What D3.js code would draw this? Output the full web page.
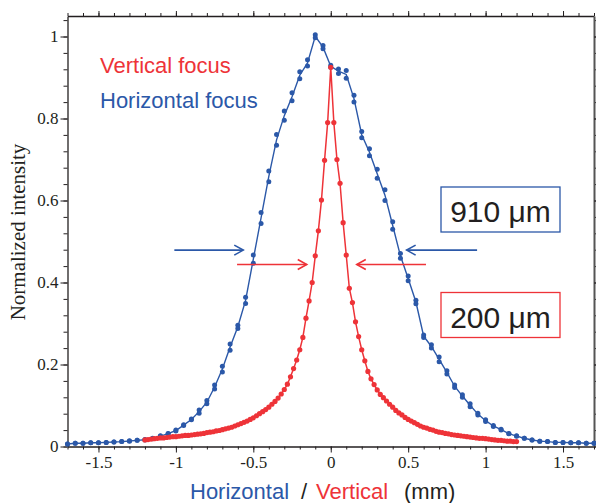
<!DOCTYPE html>
<html>
<head>
<meta charset="utf-8">
<script src="https://cdn.jsdelivr.net/npm/d3@7"></script>
<style>
	body { margin: 0; background: #fff; }
	svg { display: block; }
</style>
</head>
<body>
<script>
// horizontal focus: two scans, 0.05 mm steps from -1.7 mm
const horizStart = -1.7;
const horizStep = 0.05;
const horizScanA = [
	0.006, 0.008, 0.008, 0.009, 0.009, 0.010, 0.011, 0.012, 0.014, 0.015,
	0.017, 0.020, 0.026, 0.032, 0.040, 0.053, 0.067, 0.089, 0.112, 0.150,
	0.196, 0.250, 0.296, 0.364, 0.467, 0.571, 0.672, 0.761, 0.818, 0.863,
	0.914, 0.943, 1.004, 0.978, 0.930, 0.921, 0.917, 0.857, 0.768, 0.726,
	0.676, 0.626, 0.548, 0.471, 0.416, 0.357, 0.272, 0.248, 0.218, 0.185,
	0.150, 0.126, 0.104, 0.081, 0.065, 0.051, 0.042, 0.032, 0.026, 0.020,
	0.016, 0.013, 0.012, 0.010, 0.010, 0.009, 0.009, 0.008, 0.008
];
const horizScanB = [
	0.006, 0.008, 0.008, 0.009, 0.009, 0.010, 0.011, 0.012, 0.013, 0.015,
	0.016, 0.019, 0.025, 0.031, 0.038, 0.051, 0.065, 0.081, 0.104, 0.140,
	0.182, 0.235, 0.288, 0.349, 0.447, 0.544, 0.646, 0.735, 0.796, 0.843,
	0.897, 0.928, 0.997, 0.970, 0.925, 0.910, 0.898, 0.840, 0.753, 0.709,
	0.654, 0.600, 0.530, 0.459, 0.404, 0.348, 0.266, 0.240, 0.207, 0.177,
	0.144, 0.120, 0.097, 0.077, 0.061, 0.049, 0.040, 0.031, 0.025, 0.020,
	0.016, 0.013, 0.012, 0.010, 0.010, 0.009, 0.009, 0.008, 0.008
];

// vertical focus: 0.02 mm steps from -1.2 mm
const vertStart = -1.2;
const vertStep = 0.02;
const vertValues = [
	0.016, 0.017, 0.018, 0.019, 0.020, 0.021, 0.021, 0.022, 0.023, 0.024,
	0.024, 0.025, 0.026, 0.027, 0.027, 0.028, 0.029, 0.030, 0.031, 0.032,
	0.034, 0.035, 0.036, 0.038, 0.039, 0.041, 0.043, 0.045, 0.047, 0.050,
	0.053, 0.056, 0.059, 0.062, 0.066, 0.070, 0.075, 0.080, 0.085, 0.090,
	0.096, 0.103, 0.110, 0.118, 0.128, 0.139, 0.152, 0.170, 0.190, 0.211,
	0.236, 0.266, 0.313, 0.355, 0.400, 0.465, 0.526, 0.601, 0.698, 0.790,
	0.925,
	0.790, 0.700, 0.642, 0.546, 0.467, 0.386, 0.351, 0.304, 0.268, 0.236,
	0.209, 0.183, 0.165, 0.151, 0.138, 0.127, 0.119, 0.111, 0.103, 0.096,
	0.088, 0.082, 0.077, 0.071, 0.066, 0.062, 0.058, 0.054, 0.050, 0.047,
	0.045, 0.042, 0.040, 0.037, 0.035, 0.034, 0.032, 0.031, 0.029, 0.028,
	0.027, 0.026, 0.025, 0.024, 0.023, 0.022, 0.021, 0.020, 0.020, 0.019,
	0.018, 0.017, 0.016, 0.015, 0.015, 0.014, 0.013, 0.013, 0.012, 0.012
];

const xTicks = [-1.5, -1, -0.5, 0, 0.5, 1, 1.5];
const yTicks = [0, 0.2, 0.4, 0.6, 0.8, 1];

const legendLabels = ["Vertical focus", "Horizontal focus"];
const widthLabels = ["910 \u03bcm", "200 \u03bcm"];

// FWHM arrows in data units: [level, tail, head]
const horizArrows = [[0.479, -1.01, -0.565], [0.479, 0.945, 0.49]];
const vertArrows = [[0.444, -0.605, -0.155], [0.444, 0.615, 0.168]];

const blue = "#2b58a8";
const red = "#ee3338";
const ink = "#231f20";

const width = 596, height = 503;
const margin = ({ top: 16, right: 2, bottom: 56.5, left: 67.5 });

const x = d3.scaleLinear()
	.domain([-1.7, 1.7])
	.range([margin.left, width - margin.right]);

const y = d3.scaleLinear()
	.domain([0, 1.05])
	.range([height - margin.bottom, margin.top]);

const horiz = horizScanA.map((a, i) => ({
	x: horizStart + i * horizStep, a: a, b: horizScanB[i], m: (a + horizScanB[i]) / 2
}));
const vert = vertValues.map((v, i) => ({ x: vertStart + i * vertStep, v: v }));

const xMinor = d3.range(-17, 18).map(d => d / 10);
const yMinor = d3.range(0, 27).map(d => d * 0.04);

const svg = d3.select("body").append("svg")
	.attr("width", width)
	.attr("height", height);

svg.append("rect")
	.attr("width", width)
	.attr("height", height)
	.attr("fill", "#fff");

const styleAxis = g => g
	.call(g => g.selectAll(".domain").attr("stroke", ink).attr("stroke-width", 1.3))
	.call(g => g.selectAll(".tick line").attr("stroke", ink).attr("stroke-width", 1))
	.call(g => g.selectAll(".tick text")
		.attr("fill", ink)
		.attr("font-family", "'Liberation Serif', 'Times New Roman', serif")
		.attr("font-size", 17));

const minor = g => g
	.call(g => g.select(".domain").remove())
	.call(g => g.selectAll(".tick line").attr("stroke", ink));

// minor ticks
svg.append("g")
	.attr("transform", `translate(0,${y(0)})`)
	.call(d3.axisBottom(x).tickValues(xMinor).tickSize(3).tickFormat(""))
	.call(minor);
svg.append("g")
	.attr("transform", `translate(0,${margin.top})`)
	.call(d3.axisTop(x).tickValues(xMinor).tickSize(3).tickFormat(""))
	.call(minor);
svg.append("g")
	.attr("transform", `translate(${margin.left},0)`)
	.call(d3.axisLeft(y).tickValues(yMinor).tickSize(4).tickFormat(""))
	.call(minor);
svg.append("g")
	.attr("transform", `translate(${width - margin.right},0)`)
	.call(d3.axisRight(y).tickValues(yMinor).tickSize(4).tickFormat(""))
	.call(minor);

// major ticks and frame
svg.append("g")
	.attr("transform", `translate(0,${y(0)})`)
	.call(d3.axisBottom(x).tickValues(xTicks).tickSize(6).tickSizeOuter(0).tickPadding(3)
		.tickFormat(d => String(d)))
	.call(styleAxis);
svg.append("g")
	.attr("transform", `translate(0,${margin.top})`)
	.call(d3.axisTop(x).tickValues(xTicks).tickSize(5).tickSizeOuter(0).tickFormat(""))
	.call(styleAxis);
svg.append("g")
	.attr("transform", `translate(${margin.left},0)`)
	.call(d3.axisLeft(y).tickValues(yTicks).tickSize(7).tickSizeOuter(0).tickPadding(2)
		.tickFormat(d => String(d)))
	.call(styleAxis);
svg.append("g")
	.attr("transform", `translate(${width - margin.right},0)`)
	.call(d3.axisRight(y).tickValues(yTicks).tickSize(7).tickSizeOuter(0).tickFormat(""))
	.call(styleAxis)
	.call(g => g.select(".domain").attr("stroke", "#555").attr("stroke-width", 2));

// horizontal focus
svg.append("path")
	.datum(horiz)
	.attr("fill", "none")
	.attr("stroke", blue)
	.attr("stroke-width", 1.4)
	.attr("d", d3.line().x(d => x(d.x)).y(d => y(d.m)));

svg.append("g")
	.attr("fill", blue)
	.selectAll("circle")
	.data(horiz.flatMap(d => [[d.x, d.a], [d.x, d.b]]))
	.join("circle")
	.attr("r", 2.5)
	.attr("cx", d => x(d[0]))
	.attr("cy", d => y(d[1]));

// vertical focus
svg.append("path")
	.datum(vert)
	.attr("fill", "none")
	.attr("stroke", red)
	.attr("stroke-width", 1.5)
	.attr("d", d3.line().x(d => x(d.x)).y(d => y(d.v)));

svg.append("g")
	.attr("fill", red)
	.selectAll("circle")
	.data(vert)
	.join("circle")
	.attr("r", 2.6)
	.attr("cx", d => x(d.x))
	.attr("cy", d => y(d.v));

// FWHM arrows
const arrow = (g, a, colour) => {
	const dir = Math.sign(a[2] - a[1]);
	const hx = x(a[2]), hy = y(a[0]);
	g.append("line")
		.attr("stroke", colour)
		.attr("stroke-width", 1.6)
		.attr("x1", x(a[1])).attr("x2", hx)
		.attr("y1", hy).attr("y2", hy);
	g.append("path")
		.attr("fill", "none")
		.attr("stroke", colour)
		.attr("stroke-width", 1.6)
		.attr("d", `M${hx - dir * 9},${hy - 5}L${hx},${hy}L${hx - dir * 9},${hy + 5}`);
};
const ag = svg.append("g");
horizArrows.forEach(a => arrow(ag, a, blue));
vertArrows.forEach(a => arrow(ag, a, red));

// legend
svg.append("g")
	.attr("font-family", "'Liberation Sans', Arial, sans-serif")
	.attr("font-size", 22)
	.selectAll("text")
	.data(legendLabels)
	.join("text")
	.attr("x", 100)
	.attr("y", (d, i) => 73 + i * 35)
	.attr("fill", (d, i) => i === 0 ? red : blue)
	.text(d => d);

// width boxes
const boxes = svg.append("g")
	.selectAll("g")
	.data(widthLabels)
	.join("g")
	.attr("transform", (d, i) => `translate(441,${i === 0 ? 187 : 292.5})`);

boxes.append("rect")
	.attr("width", 119)
	.attr("height", 45)
	.attr("fill", "#fff")
	.attr("stroke", (d, i) => i === 0 ? blue : red)
	.attr("stroke-width", 1.3);

boxes.append("text")
	.attr("x", 59.5)
	.attr("y", 35)
	.attr("text-anchor", "middle")
	.attr("font-family", "'Liberation Sans', Arial, sans-serif")
	.attr("font-size", 30)
	.attr("fill", ink)
	.text(d => d);

// axis titles
svg.append("text")
	.attr("transform", "translate(25,232) rotate(-90)")
	.attr("text-anchor", "middle")
	.attr("font-family", "'Liberation Serif', 'Times New Roman', serif")
	.attr("font-size", 21)
	.attr("fill", ink)
	.text("Normalized intensity");

const xt = svg.append("text")
	.attr("y", 499)
	.attr("font-family", "'Liberation Sans', Arial, sans-serif")
	.attr("font-size", 22);
xt.append("tspan").attr("x", 190).attr("fill", blue).text("Horizontal");
xt.append("tspan").attr("x", 301).attr("fill", ink).text("/");
xt.append("tspan").attr("x", 316).attr("fill", red).text("Vertical");
xt.append("tspan").attr("x", 404).attr("fill", ink).text("(mm)");
</script>
</body>
</html>
